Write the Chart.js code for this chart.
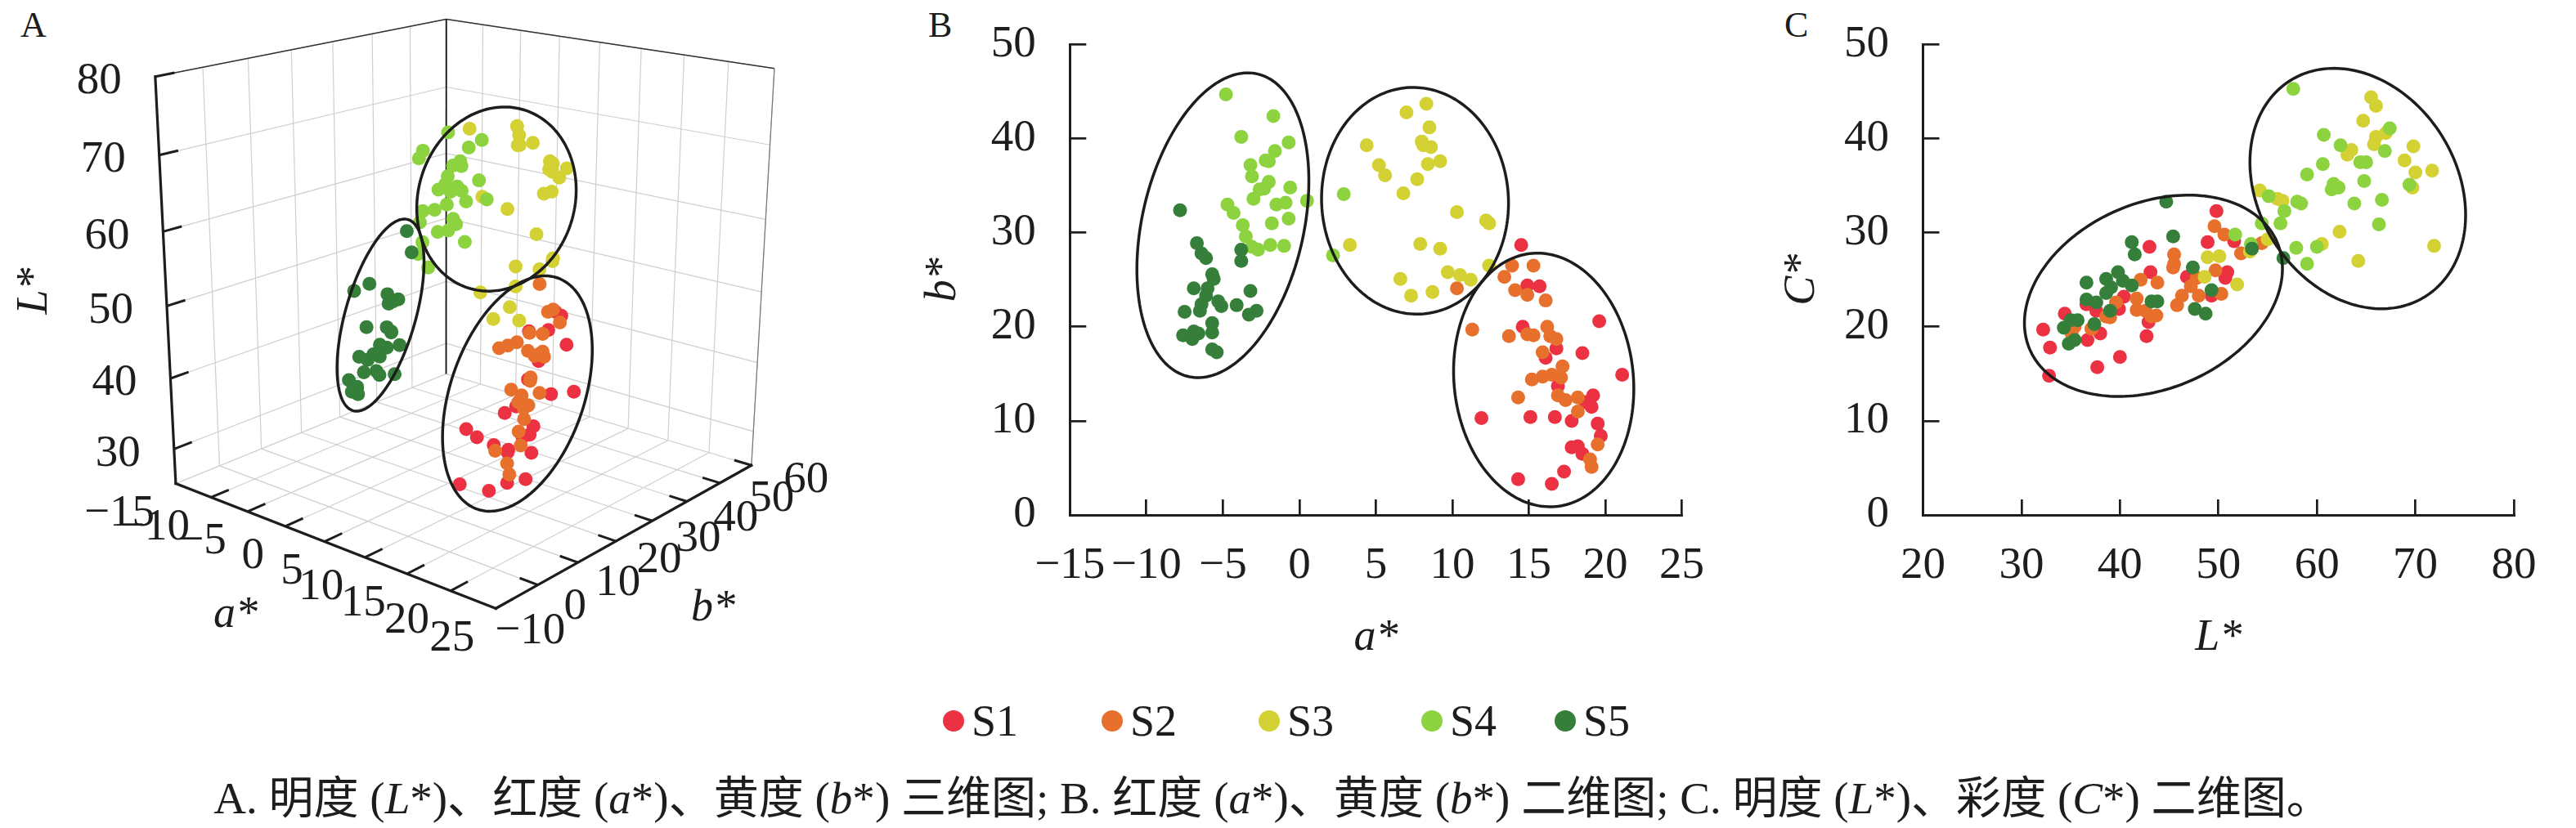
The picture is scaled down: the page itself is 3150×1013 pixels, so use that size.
<!DOCTYPE html>
<html>
<head>
<meta charset="utf-8">
<title>S1-S5 colour parameters</title>
<script src="https://cdn.jsdelivr.net/npm/chart.js"></script>
<style>
  body { margin: 0; width: 3150px; height: 1013px; overflow: hidden; background: #fff; position: relative; color: #1d1d1b; }
  .panel { position: absolute; }
  .tag { position: absolute; font-size: 44px; line-height: 44px; }
  .dot { position: absolute; width: 26px; height: 26px; border-radius: 50%; }
  .lab { position: absolute; font-size: 54px; line-height: 54px; }
  #caption { position: absolute; top: 947px; font-size: 48px; line-height: 60px; white-space: nowrap; }
</style>
</head>
<body>
<div class="tag" style="left:25px;top:9px">A</div>
<div class="tag" style="left:1135px;top:9px">B</div>
<div class="tag" style="left:2182px;top:9px">C</div>

<div class="panel" style="left:0;top:0"><canvas id="chartA" width="1100" height="820"></canvas></div>
<div class="panel" style="left:1100px;top:-40px"><canvas id="chartB" width="1050" height="900"></canvas></div>
<div class="panel" style="left:2150px;top:-40px"><canvas id="chartC" width="1000" height="900"></canvas></div>

<div id="legend"></div>
<span id="caption">A. 明度 (<i>L</i>*)、红度 (<i>a</i>*)、黄度 (<i>b</i>*) 三维图; B. 红度 (<i>a</i>*)、黄度 (<i>b</i>*) 二维图; C. 明度 (<i>L</i>*)、彩度 (<i>C</i>*) 二维图。</span>

<script>
// ---- data ----
const seriesNames = ['S1', 'S2', 'S3', 'S4', 'S5'];
const seriesColors = ['#ec3143', '#e8702d', '#d3d133', '#8cd33f', '#357f3b'];

// panel B: a* and b*
const aS1 = [14.5,14.9,15.7,14.6,19.6,16.8,16.1,18.5,21.1,16.9,19.2,19.1,18.7,11.9,15.1,16.7,17.8,19.5,19.7,17.8,18.2,18.5,14.3,16.5,17.3];
const bS1 = [28.7,24.4,24.3,20.0,20.6,17.7,16.7,17.2,14.9,13.7,12.7,11.5,12.0,10.3,10.4,10.4,10.0,9.7,8.4,7.2,7.3,6.5,3.8,3.3,4.6];
const aS2 = [10.3,13.9,13.4,15.3,14.1,14.9,16.1,11.3,13.7,14.9,15.3,16.2,16.4,16.8,15.9,17.2,15.2,15.9,16.5,17.1,14.3,16.9,17.4,18.2,18.2,19.5,19.0,19.1];
const bS2 = [24.1,26.5,25.3,26.5,23.9,23.4,22.8,19.7,19.0,19.2,19.1,20.0,19.0,18.7,17.3,15.8,14.4,14.7,14.9,14.6,12.5,12.7,12.2,12.5,11.0,7.5,5.9,5.1];
const aS3 = [8.3,7.0,8.5,8.0,8.6,8.1,4.4,5.2,5.6,9.2,8.4,7.7,6.8,10.3,12.2,12.4,3.3,7.9,9.2,9.7,10.5,11.2,12.4,6.6,7.3,8.7];
const bS3 = [43.7,42.8,41.2,39.7,39.1,39.3,39.3,37.2,36.1,37.6,37.3,35.7,34.2,32.2,31.3,31.0,28.7,28.8,28.3,25.8,25.5,25.0,26.5,25.1,23.3,23.7];
const aS4 = [-4.8,-1.7,-3.8,-0.7,-1.6,-2.0,-2.2,-3.2,-3.1,-2.0,-2.6,-2.3,-0.6,0.5,-3.0,-0.9,-1.5,-4.7,-4.3,-0.7,-3.7,-1.8,-3.5,-3.1,-2.7,-1.9,-1.0,2.2,2.9];
const bS4 = [44.7,42.4,40.2,39.6,38.7,37.6,37.7,37.2,36.0,35.4,34.6,34.7,34.8,33.4,33.6,33.2,33.0,33.0,32.1,31.5,30.8,31.0,29.6,28.5,28.2,28.7,28.6,27.6,34.1];
const aS5 = [-7.8,-6.7,-6.4,-6.1,-3.8,-3.8,-5.7,-5.6,-6.9,-6.0,-6.1,-6.4,-5.3,-5.1,-4.1,-3.2,-3.3,-2.8,-7.5,-6.5,-5.7,-5.7,-7.6,-6.9,-6.6,-7.0,-5.7,-5.4];
const bS5 = [32.4,28.9,27.8,27.3,28.2,27.0,25.6,25.1,24.1,24.1,23.3,22.4,22.7,22.2,22.3,23.8,21.3,21.7,21.6,21.7,20.4,19.4,19.1,19.5,19.3,18.7,17.6,17.3];

// panel C: L* and C*
const lS1 = [49.8,43.0,48.9,51.6,43.1,46.8,50.9,50.7,40.4,49.3,34.4,36.6,37.6,39.9,42.9,32.2,38.0,42.7,32.9,36.7,40.0,37.7,32.8];
const cS1 = [32.3,28.5,29.0,29.1,25.8,25.3,25.8,25.2,23.2,23.3,21.4,22.4,21.7,21.9,20.5,19.7,19.3,19.0,17.8,18.6,16.8,15.7,14.8];
const lS2 = [49.6,50.6,52.3,54.4,45.5,45.5,45.4,49.7,47.2,47.8,43.8,42.1,46.3,48.0,50.3,45.8,39.6,41.7,41.7,42.6,43.7,43.2,38.6,39.0,35.4,37.1,35.1];
const cS2 = [30.7,29.8,27.8,28.9,27.7,26.7,26.3,26.0,24.3,25.2,24.7,25.0,23.3,23.3,23.5,22.3,22.6,23.0,21.8,21.7,21.2,21.1,21.1,21.0,20.0,19.8,19.3];
const lS3 = [65.5,66.0,64.7,66.0,65.8,67.0,69.8,63.5,63.1,68.9,70.0,71.7,54.2,56.0,56.5,69.7,62.3,60.5,71.9,64.2,55.0,53.2,48.9,50.1,48.6,51.9];
const cS3 = [44.4,43.5,41.9,40.2,39.4,40.6,39.2,38.8,38.3,37.7,36.4,36.6,34.5,33.6,33.4,34.8,30.1,28.8,28.6,27.0,29.3,28.0,27.4,27.5,25.3,24.5];
const lS4 = [57.6,67.4,60.7,62.4,66.9,60.6,64.4,65.0,59.0,64.8,61.7,62.2,61.5,69.4,55.1,58.0,58.4,63.8,66.6,56.7,54.4,56.3,66.3,51.7,57.9,60.0,59.0,53.3];
const cS4 = [45.3,41.1,40.4,39.3,38.7,37.3,37.5,37.5,36.2,35.5,35.2,34.8,34.6,35.1,33.9,33.3,33.1,33.1,33.5,32.3,31.0,31.0,30.9,29.8,28.4,28.5,26.7,28.8];
const lS5 = [44.7,45.4,41.2,41.5,47.4,39.8,36.6,38.6,40.3,39.1,41.2,38.6,36.6,37.6,43.2,43.8,39.0,47.6,48.7,49.3,53.4,56.6,34.3,35.0,35.7,37.4,34.8,35.4];
const cS5 = [33.3,29.6,29.0,27.7,26.3,25.8,24.7,25.1,24.9,24.2,24.4,23.6,22.9,22.6,22.7,22.7,21.7,21.9,21.4,23.9,28.3,27.3,19.9,20.7,20.7,20.3,18.2,18.6];

// axis ticks
const aTicks = [-15, -10, -5, 0, 5, 10, 15, 20, 25];
const bTicks = [-10, 0, 10, 20, 30, 40, 50, 60];
const lTicks = [30, 40, 50, 60, 70, 80];

// cluster ellipses (centre, half extents, tilt as correlation)
const ellipsesB = [
  { cx: -5.0, cy: 30.8, hx: 5.62, hy: 16.2, rho: 0.29 },
  { cx: 7.56, cy: 33.4, hx: 6.11, hy: 12.05, rho: -0.02 },
  { cx: 15.97, cy: 14.35, hx: 5.89, hy: 13.48, rho: -0.07 }
];
const ellipsesC = [
  { cx: 43.4, cy: 23.3, hx: 13.1, hy: 10.7, rho: 0.27 },
  { cx: 64.15, cy: 34.7, hx: 10.95, hy: 12.78, rho: -0.22 }
];
// panel A ellipses live in the projected (screen-like) space
const ellipsesA = [
  { cx: 464, cy: 385, hx: 54, hy: 120, rho: -0.55 },
  { cx: 608, cy: 240, hx: 99, hy: 115, rho: -0.1 },
  { cx: 634, cy: 483, hx: 93, hy: 147, rho: -0.37 }
];

const aSeries = [aS1, aS2, aS3, aS4, aS5];
const bSeries = [bS1, bS2, bS3, bS4, bS5];
const lSeries = [lS1, lS2, lS3, lS4, lS5];
const cSeries = [cS1, cS2, cS3, cS4, cS5];

// ---- 3D box of panel A: where its corners sit in the view ----
const boxA = { a: [-15, 25], b: [-10, 60], L: [25, 80] };
const boxAnchors = [
  [0, 0, 0, 210, 595], [1, 0, 0, 607, 752], [1, 1, 0, 925, 572], [0, 1, 0, 545, 459],
  [0, 0, 1, 184, 87], [0, 1, 1, 546, 15], [1, 1, 1, 953, 77]
];

const ink = '#1d1d1b';
const fmt = v => v < 0 ? '\u2212' + Math.abs(v) : String(v);

// pick the first Times-like face that is really installed
function pickSerif() {
  const c = document.createElement('canvas').getContext('2d');
  const probe = 'mmmmmmmmmmlli1234567890WQ';
  const list = ['Liberation Serif', 'Tinos', 'Times New Roman', 'Nimbus Roman', 'Nimbus Roman No9 L', 'DejaVu Serif', 'Noto Serif'];
  for (const f of list) {
    const ok = ['monospace', 'sans-serif'].every(base => {
      c.font = '50px ' + base;
      const w0 = c.measureText(probe).width;
      c.font = '50px "' + f + '", ' + base;
      return c.measureText(probe).width !== w0;
    });
    if (ok) return '"' + f + '"';
  }
  return 'serif';
}
const serif = pickSerif();
document.body.style.fontFamily = serif + ', "Noto Sans CJK SC", serif';
Chart.defaults.font.family = serif;
Chart.defaults.color = ink;

// least squares fit of a perspective camera to the box corners
function fitProjection(anchors) {
  const N = 11;
  const M = Array.from({ length: N }, () => new Array(N).fill(0));
  const r = new Array(N).fill(0);
  const add = (row, rhs) => {
    for (let i = 0; i < N; i++) {
      r[i] += row[i] * rhs;
      for (let j = 0; j < N; j++) M[i][j] += row[i] * row[j];
    }
  };
  anchors.forEach(([u, v, w, X, Y]) => {
    add([u, v, w, 1, 0, 0, 0, 0, -X * u, -X * v, -X * w], X);
    add([0, 0, 0, 0, u, v, w, 1, -Y * u, -Y * v, -Y * w], Y);
  });
  for (let c = 0; c < N; c++) {
    let p = c;
    for (let k = c + 1; k < N; k++) if (Math.abs(M[k][c]) > Math.abs(M[p][c])) p = k;
    [M[c], M[p]] = [M[p], M[c]];
    [r[c], r[p]] = [r[p], r[c]];
    for (let k = c + 1; k < N; k++) {
      const f = M[k][c] / M[c][c];
      for (let j = c; j < N; j++) M[k][j] -= f * M[c][j];
      r[k] -= f * r[c];
    }
  }
  const p = new Array(N);
  for (let c = N - 1; c >= 0; c--) {
    let s = r[c];
    for (let j = c + 1; j < N; j++) s -= M[c][j] * p[j];
    p[c] = s / M[c][c];
  }
  return p;
}
const cam = fitProjection(boxAnchors);
function project(a, b, L) {
  const u = (a - boxA.a[0]) / (boxA.a[1] - boxA.a[0]);
  const v = (b - boxA.b[0]) / (boxA.b[1] - boxA.b[0]);
  const w = (L - boxA.L[0]) / (boxA.L[1] - boxA.L[0]);
  const d = cam[8] * u + cam[9] * v + cam[10] * w + 1;
  return { x: (cam[0] * u + cam[1] * v + cam[2] * w + cam[3]) / d,
           y: (cam[4] * u + cam[5] * v + cam[6] * w + cam[7]) / d };
}

// the same samples appear in B and C: match them up by chroma rank to get L* for each (a*, b*)
function lightnessFor(aArr, bArr, lArr, cArr) {
  const byChroma = aArr.map((_, i) => i).sort((i, j) => Math.hypot(aArr[i], bArr[i]) - Math.hypot(aArr[j], bArr[j]));
  const byC = cArr.map((_, i) => i).sort((i, j) => cArr[i] - cArr[j]);
  const out = new Array(aArr.length);
  byChroma.forEach((idx, rank) => {
    const k = Math.round(rank * (byC.length - 1) / (byChroma.length - 1));
    out[idx] = lArr[byC[k]];
  });
  return out;
}

function drawEllipses(chart, list) {
  const { ctx, scales: { x, y } } = chart;
  ctx.save();
  ctx.strokeStyle = ink;
  ctx.lineWidth = 3.5;
  list.forEach(e => {
    const s = Math.sqrt(1 - e.rho * e.rho);
    ctx.beginPath();
    for (let i = 0; i <= 200; i++) {
      const t = i / 200 * 2 * Math.PI;
      const px = x.getPixelForValue(e.cx + e.hx * Math.cos(t));
      const py = y.getPixelForValue(e.cy + e.hy * (e.rho * Math.cos(t) - s * Math.sin(t)));
      if (i) ctx.lineTo(px, py); else ctx.moveTo(px, py);
    }
    ctx.closePath();
    ctx.stroke();
  });
  ctx.restore();
}

const ellipsePlugin = {
  id: 'ellipses',
  afterDatasetsDraw(chart, args, opts) { drawEllipses(chart, opts.list || []); }
};

// box, grid, axes and labels of the 3D panel
const frame3d = {
  id: 'frame3d',
  beforeDatasetsDraw(chart) {
    const { ctx, scales: { x, y } } = chart;
    const P = (a, b, L) => { const p = project(a, b, L); return [x.getPixelForValue(p.x), y.getPixelForValue(p.y)]; };
    const seg = (p, q, color, width) => {
      ctx.strokeStyle = color; ctx.lineWidth = width;
      ctx.beginPath(); ctx.moveTo(p[0], p[1]); ctx.lineTo(q[0], q[1]); ctx.stroke();
    };
    const [a0, a1] = boxA.a, [b0, b1] = boxA.b, [L0, L1] = boxA.L;
    ctx.save();
    ctx.lineCap = 'butt';
    const grid = '#cfcfcf';
    aTicks.forEach(a => { seg(P(a, b0, L0), P(a, b1, L0), grid, 1.2); seg(P(a, b1, L0), P(a, b1, L1), grid, 1.2); });
    bTicks.forEach(b => { seg(P(a0, b, L0), P(a1, b, L0), grid, 1.2); seg(P(a0, b, L0), P(a0, b, L1), grid, 1.2); });
    lTicks.forEach(L => { seg(P(a0, b0, L), P(a0, b1, L), grid, 1.2); seg(P(a0, b1, L), P(a1, b1, L), grid, 1.2); });
    // outer edges
    seg(P(a0, b0, L1), P(a0, b1, L1), '#333', 1.5);
    seg(P(a0, b1, L1), P(a1, b1, L1), '#333', 1.5);
    seg(P(a0, b1, L0), P(a0, b1, L1), '#111', 1.8);
    seg(P(a1, b1, L0), P(a1, b1, L1), '#777', 1.2);
    // main axes
    ctx.lineCap = 'square';
    seg(P(a0, b0, L0), P(a0, b0, L1), ink, 3.2);
    seg(P(a0, b0, L0), P(a1, b0, L0), ink, 3.2);
    seg(P(a1, b0, L0), P(a1, b1, L0), ink, 3.2);
    ctx.lineCap = 'butt';
    lTicks.forEach(L => seg(P(a0, b0, L), P(a0, b0 + 4, L), ink, 3));
    aTicks.slice(1).forEach(a => seg(P(a, b0, L0), P(a, b0 + 4, L0), ink, 3));
    bTicks.slice(1).forEach(b => seg(P(a1, b, L0), P(a1 - 2, b, L0), ink, 3));
    // tick labels
    ctx.fillStyle = ink;
    ctx.font = '55px ' + serif;
    ctx.textBaseline = 'middle';
    ctx.textAlign = 'right';
    lTicks.forEach(L => { const p = P(a0, b0, L); ctx.fillText(fmt(L), p[0] - 41, p[1] + 6); });
    aTicks.forEach(a => { const p = P(a, b0, L0); ctx.fillText(fmt(a), p[0] - 26, p[1] + 37); });
    ctx.textAlign = 'center';
    bTicks.forEach(b => {
      const p = P(a1, b, L0), t = (b - b0) / (b1 - b0);
      ctx.fillText(fmt(b), p[0] + 42 + 25 * t, p[1] + 28 - 10 * t);
    });
    // axis titles
    ctx.font = 'italic 54px ' + serif;
    ctx.fillText('a*', 288, 753);
    ctx.fillText('b*', 872, 745);
    ctx.save();
    ctx.translate(43, 356);
    ctx.rotate(-Math.PI / 2);
    ctx.fillText('L*', 0, 0);
    ctx.restore();
    ctx.restore();
  },
  afterDatasetsDraw(chart) { drawEllipses(chart, ellipsesA); }
};

const pointStyle = (i) => ({
  label: seriesNames[i],
  backgroundColor: seriesColors[i],
  borderColor: seriesColors[i],
  borderWidth: 0,
  pointRadius: 8.5,
  order: 5 - i
});

const baseOptions = {
  responsive: false,
  animation: false,
  events: [],
  plugins: { legend: { display: false }, tooltip: { enabled: false } }
};

// panel A
new Chart(document.getElementById('chartA'), {
  type: 'scatter',
  data: {
    datasets: seriesNames.map((_, i) => {
      const Ls = lightnessFor(aSeries[i], bSeries[i], lSeries[i], cSeries[i]);
      return Object.assign(pointStyle(i), {
        data: aSeries[i].map((a, k) => project(a, bSeries[i][k], Ls[k]))
      });
    })
  },
  options: Object.assign({}, baseOptions, {
    layout: { padding: 0 },
    scales: {
      x: { type: 'linear', min: 0, max: 1100, display: false },
      y: { type: 'linear', min: 0, max: 820, reverse: true, display: false }
    }
  }),
  plugins: [frame3d]
});

function axis2d(min, max, step, title, isX, fitSize) {
  return {
    type: 'linear', min, max,
    ticks: { stepSize: step, padding: isX ? 48.5 : 61.6, font: { size: 55 }, color: ink, callback: fmt },
    grid: { display: true, drawOnChartArea: false, drawTicks: true, tickLength: isX ? -19 : -20, lineWidth: 2.7, color: ink },
    border: { display: true, width: 3, color: ink },
    title: { display: true, text: title, color: ink,
             font: { size: 54, style: 'italic' },
             padding: isX ? { top: 0, bottom: 26.6 } : { top: 21.6, bottom: 0 } },
    afterFit: s => { if (isX) s.height = fitSize; else s.width = fitSize; }
  };
}

// panel B
new Chart(document.getElementById('chartB'), {
  type: 'scatter',
  data: {
    datasets: seriesNames.map((_, i) => Object.assign(pointStyle(i), {
      data: aSeries[i].map((a, k) => ({ x: a, y: bSeries[i][k] }))
    }))
  },
  options: Object.assign({}, baseOptions, {
    layout: { padding: { left: 0, top: 70, right: 93.4, bottom: 20 } },
    scales: { x: axis2d(-15, 25, 5, 'a*', true, 210), y: axis2d(0, 50, 10, 'b*', false, 208.3) },
    plugins: { legend: { display: false }, tooltip: { enabled: false }, ellipses: { list: ellipsesB } }
  }),
  plugins: [ellipsePlugin]
});

// panel C
new Chart(document.getElementById('chartC'), {
  type: 'scatter',
  data: {
    datasets: seriesNames.map((_, i) => Object.assign(pointStyle(i), {
      data: lSeries[i].map((l, k) => ({ x: l, y: cSeries[i][k] }))
    }))
  },
  options: Object.assign({}, baseOptions, {
    layout: { padding: { left: 0, top: 70, right: 49.7, bottom: 20 } },
    scales: { x: axis2d(20, 80, 10, 'L*', true, 210), y: axis2d(0, 50, 10, 'C*', false, 201.5) },
    plugins: { legend: { display: false }, tooltip: { enabled: false }, ellipses: { list: ellipsesC } }
  }),
  plugins: [ellipsePlugin]
});

// shared legend
const legendX = [1166, 1360, 1552, 1751, 1914];
const legend = document.getElementById('legend');
seriesNames.forEach((name, i) => {
  const dot = document.createElement('div');
  dot.className = 'dot';
  dot.style.left = (legendX[i] - 13) + 'px';
  dot.style.top = '869px';
  dot.style.background = seriesColors[i];
  const lab = document.createElement('div');
  lab.className = 'lab';
  lab.style.left = (legendX[i] + 22) + 'px';
  lab.style.top = '855px';
  lab.textContent = name;
  legend.appendChild(dot);
  legend.appendChild(lab);
});

// caption: fit to the width it has in the figure, centred under the panels
const caption = document.getElementById('caption');
const capWidth = 2590, capCentre = 1556;
caption.style.fontSize = (48 * capWidth / caption.getBoundingClientRect().width) + 'px';
caption.style.left = (capCentre - caption.getBoundingClientRect().width / 2) + 'px';
</script>
</body>
</html>
